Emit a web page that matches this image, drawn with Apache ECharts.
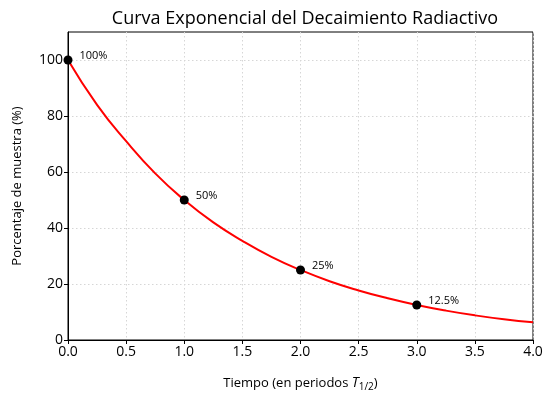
<!DOCTYPE html>
<html>
<head>
<meta charset="utf-8">
<script src="https://cdn.jsdelivr.net/npm/echarts@6/dist/echarts.min.js"></script>
<style>
    html, body { margin: 0; padding: 0; background: #fff; }
    #chart { width: 555px; height: 401px; }
</style>
</head>
<body>
<div id="chart"></div>
<script>
// curve (time in half-lives, percent remaining)
const curveTimes = [0, 0.25, 0.5, 0.75, 1, 1.25, 1.5, 1.75, 2, 2.25, 2.5, 2.75, 3, 3.25, 3.5, 3.75, 4];
const curveValues = [100, 84, 71, 59.5, 50, 42, 35.4, 29.7, 25, 21, 17.7, 14.9, 12.5, 10.5, 8.8, 7.4, 6.3];

const markTimes = [0, 1, 2, 3];
const markValues = [100, 50, 25, 12.5];
const markLabels = ['100%', '50%', '25%', '12.5%'];

const yTicks = [0, 20, 40, 60, 80, 100];

const font = '"Open Sans", sans-serif';
const chart = echarts.init(document.getElementById('chart'), null, { renderer: 'canvas' });

chart.setOption({
    animation: false,
    textStyle: { fontFamily: font },
    title: {
        text: 'Curva Exponencial del Decaimiento Radiactivo',
        left: 300,
        textAlign: 'center',
        top: 5,
        textStyle: { fontFamily: font, fontSize: 18, fontWeight: 'normal', color: '#000' },
    },
    grid: {
        left: 68,
        right: 22,
        top: 32,
        bottom: 61,
        show: true,
        borderColor: '#000',
        borderWidth: 1,
    },
    xAxis: {
        type: 'value',
        min: 0,
        max: 4,
        interval: 0.5,
        name: '{n|Tiempo (en periodos }{t|T}{s|1/2}{n|)}',
        nameLocation: 'middle',
        nameGap: 34,
        nameTextStyle: {
            rich: {
                n: { fontFamily: font, fontSize: 13, color: '#000' },
                t: { fontFamily: font, fontSize: 14, fontStyle: 'italic', color: '#000' },
                s: { fontFamily: font, fontSize: 10, color: '#000', padding: [8, 0, 0, 0] },
            },
        },
        axisLine: { lineStyle: { color: '#000', width: 1 } },
        axisTick: { length: 4, lineStyle: { color: '#000' } },
        axisLabel: {
            color: '#000',
            fontSize: 14,
            margin: 5,
            formatter: (v) => v.toFixed(1),
        },
        splitLine: { lineStyle: { color: '#d6d6d6', type: [1.5, 2.5], width: 1 } },
    },
    yAxis: {
        type: 'value',
        min: 0,
        max: 110,
        interval: 20,
        name: 'Porcentaje de muestra (%)',
        nameLocation: 'middle',
        nameGap: 44,
        nameTextStyle: { fontFamily: font, fontSize: 13, color: '#000' },
        axisLine: { show: true, lineStyle: { color: '#000', width: 1 } },
        axisTick: { show: true, length: 4, lineStyle: { color: '#000' }, customValues: yTicks },
        axisLabel: { color: '#000', fontSize: 14, margin: 5, customValues: yTicks },
        splitLine: { lineStyle: { color: '#d6d6d6', type: [1.5, 2.5], width: 1 } },
    },
    series: [
        {
            type: 'line',
            data: curveTimes.map((t, i) => [t, curveValues[i]]),
            smooth: true,
            showSymbol: false,
            lineStyle: { color: '#ff0000', width: 2 },
            z: 2,
        },
        {
            type: 'scatter',
            data: markTimes.map((t, i) => [t, markValues[i]]),
            symbol: 'circle',
            symbolSize: 9,
            itemStyle: { color: '#000', opacity: 1 },
            label: {
                show: true,
                position: 'right',
                distance: 7,
                offset: [0, -4],
                fontFamily: font,
                fontSize: 11,
                color: '#000',
                formatter: (p) => markLabels[p.dataIndex],
            },
            clip: false,
            z: 3,
        },
    ],
});
</script>
</body>
</html>
